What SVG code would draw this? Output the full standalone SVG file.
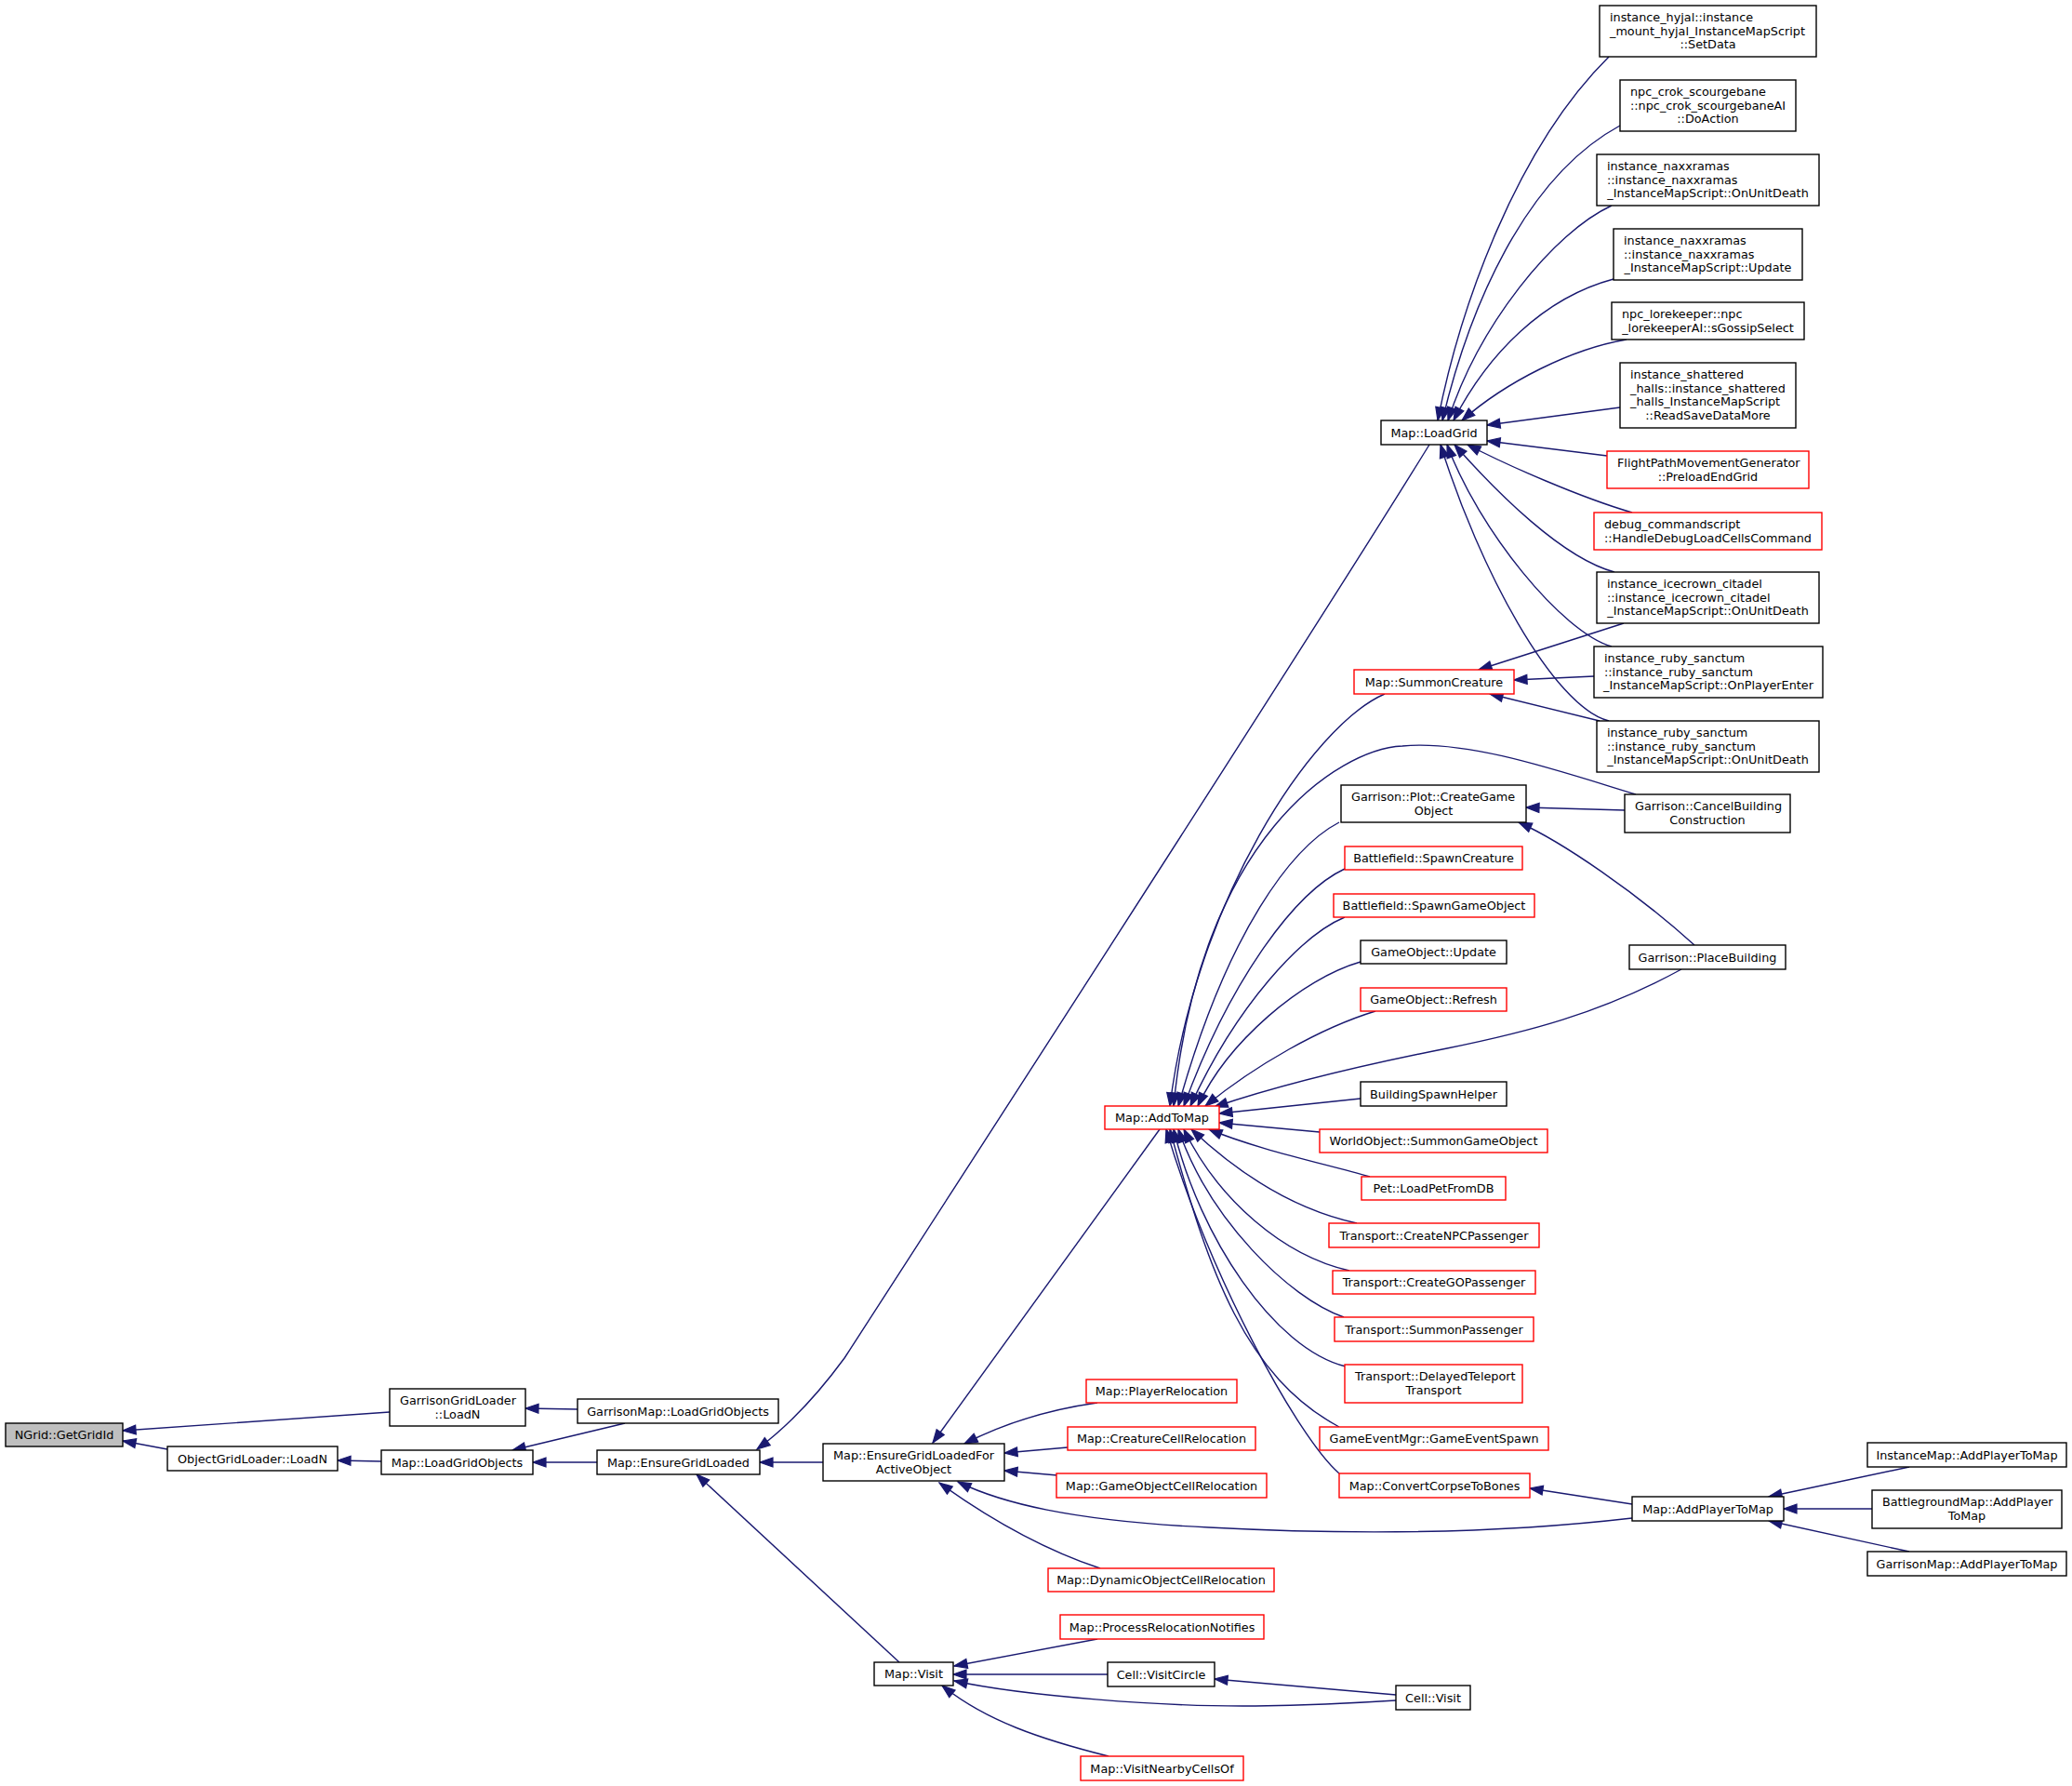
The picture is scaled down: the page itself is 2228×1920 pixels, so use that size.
<svg xmlns="http://www.w3.org/2000/svg" width="2228" height="1920" viewBox="0 0 2228 1920">
<defs>
<marker id="a" markerUnits="userSpaceOnUse" markerWidth="16" markerHeight="12" refX="14" refY="5" orient="auto-start-reverse" overflow="visible">
<path d="M0,0 L14,5 L0,10 Z" fill="#191970" stroke="#191970" stroke-width="1.2"/>
</marker>
<style>
.n rect{fill:#fff;stroke:#000;stroke-width:1.4}
.r rect{stroke:#f00}
.g rect{fill:#bfbfbf}
text{font-family:"DejaVu Sans","Liberation Sans",sans-serif;font-size:12.8px;fill:#000}
.c{text-anchor:middle}
#edges path{fill:none;stroke:#191970;stroke-width:1.4;marker-start:url(#a)}
</style>
</defs>
<rect x="0" y="0" width="2228" height="1920" fill="#fff"/>

<g id="edges">
<path d="M132,1538 L419,1518"/>
<path d="M132,1549 L180,1558"/>
<path d="M565,1514 L621,1515"/>
<path d="M551,1559 L672,1530"/>
<path d="M363,1570 L410,1571"/>
<path d="M573,1572 L642,1572"/>
<path d="M817,1572 L885,1572"/>
<path d="M749,1585 L967,1787"/>
<path d="M814,1558 C845,1535 875,1505 908,1460 C1050,1240 1400,700 1537,478"/>
<path d="M1003,1551 L1247,1214"/>
<path d="M1037,1552 C1080,1530 1130,1515 1180,1508"/>
<path d="M1080,1562 L1148,1556"/>
<path d="M1080,1581 L1137,1586"/>
<path d="M1010,1594 C1060,1630 1120,1665 1183,1686"/>
<path d="M1030,1593 C1075,1615 1150,1635 1300,1642 C1450,1650 1600,1650 1755,1632"/>
<path d="M1546,452 C1570,330 1630,160 1730,61"/>
<path d="M1551,452 C1580,330 1640,190 1742,135"/>
<path d="M1557,452 C1590,350 1670,250 1733,221"/>
<path d="M1563,452 C1600,380 1660,320 1735,300"/>
<path d="M1572,452 C1620,410 1690,375 1749,365"/>
<path d="M1599,457 L1742,438"/>
<path d="M1599,474 L1728,490"/>
<path d="M1578,478 C1620,500 1700,535 1755,551"/>
<path d="M1564,478 C1610,530 1680,600 1736,615"/>
<path d="M1556,478 C1590,570 1680,680 1733,695"/>
<path d="M1549,478 C1590,610 1670,760 1730,775"/>
<path d="M1590,720 L1746,670"/>
<path d="M1628,731 L1714,727"/>
<path d="M1602,746 L1720,775"/>
<path d="M1641,868 L1747,871"/>
<path d="M1633,884 C1680,905 1760,960 1822,1016"/>
<path d="M1258,1189 C1285,970 1410,780 1489,746"/>
<path d="M1262,1189 C1290,900 1440,805 1508,802 C1580,795 1680,830 1759,854"/>
<path d="M1267,1189 C1320,1000 1390,910 1440,884"/>
<path d="M1273,1189 C1320,1060 1390,960 1446,934"/>
<path d="M1280,1189 C1330,1080 1400,1005 1446,986"/>
<path d="M1288,1189 C1320,1120 1400,1052 1463,1034"/>
<path d="M1296,1189 C1350,1145 1420,1105 1479,1087"/>
<path d="M1306,1190 C1380,1165 1460,1146 1556,1127 C1640,1110 1720,1090 1808,1042"/>
<path d="M1311,1197 L1463,1181"/>
<path d="M1311,1207 L1419,1217"/>
<path d="M1300,1214 C1350,1235 1420,1250 1473,1265"/>
<path d="M1281,1214 C1330,1260 1390,1300 1459,1315"/>
<path d="M1273,1214 C1310,1290 1380,1350 1451,1366"/>
<path d="M1267,1214 C1300,1310 1385,1395 1445,1416"/>
<path d="M1262,1214 C1290,1330 1370,1450 1447,1469"/>
<path d="M1258,1214 C1300,1370 1340,1480 1440,1534"/>
<path d="M1254,1214 C1300,1370 1395,1545 1440,1584"/>
<path d="M1645,1600 L1755,1617"/>
<path d="M1902,1609 L2053,1577"/>
<path d="M1918,1622 L2013,1622"/>
<path d="M1902,1635 L2053,1668"/>
<path d="M1026,1791 L1180,1762"/>
<path d="M1025,1800 L1191,1800"/>
<path d="M1026,1807 C1100,1823 1250,1835 1350,1834 C1420,1833 1470,1830 1501,1828"/>
<path d="M1013,1812 C1060,1850 1120,1870 1192,1888"/>
<path d="M1306,1805 L1501,1822"/>
</g>

<g id="n_hyjal" class="n"><rect x="1720" y="6" width="233" height="55"/><text x="1731" y="23">instance_hyjal::instance</text><text x="1731" y="37.5">_mount_hyjal_InstanceMapScript</text><text class="c" x="1836.5" y="52">::SetData</text></g>
<g id="n_crok" class="n"><rect x="1742" y="86" width="189" height="55"/><text x="1753" y="103">npc_crok_scourgebane</text><text x="1753" y="117.5">::npc_crok_scourgebaneAI</text><text class="c" x="1836.5" y="132">::DoAction</text></g>
<g id="n_naxx1" class="n"><rect x="1717" y="166" width="239" height="55"/><text x="1728" y="183">instance_naxxramas</text><text x="1728" y="197.5">::instance_naxxramas</text><text class="c" x="1836.5" y="212">_InstanceMapScript::OnUnitDeath</text></g>
<g id="n_naxx2" class="n"><rect x="1735" y="246" width="203" height="55"/><text x="1746" y="263">instance_naxxramas</text><text x="1746" y="277.5">::instance_naxxramas</text><text class="c" x="1836.5" y="292">_InstanceMapScript::Update</text></g>
<g id="n_lorekeeper" class="n"><rect x="1733" y="325" width="207" height="40"/><text x="1744" y="342">npc_lorekeeper::npc</text><text class="c" x="1836.5" y="356.5">_lorekeeperAI::sGossipSelect</text></g>
<g id="n_shattered" class="n"><rect x="1742" y="390" width="189" height="70"/><text x="1753" y="407">instance_shattered</text><text x="1753" y="421.5">_halls::instance_shattered</text><text x="1753" y="436">_halls_InstanceMapScript</text><text class="c" x="1836.5" y="450.5">::ReadSaveDataMore</text></g>
<g id="n_flightpath" class="n r"><rect x="1728" y="485" width="217" height="40"/><text x="1739" y="502">FlightPathMovementGenerator</text><text class="c" x="1836.5" y="516.5">::PreloadEndGrid</text></g>
<g id="n_debug" class="n r"><rect x="1714" y="551" width="245" height="40"/><text x="1725" y="568">debug_commandscript</text><text class="c" x="1836.5" y="582.5">::HandleDebugLoadCellsCommand</text></g>
<g id="n_icecrown" class="n"><rect x="1717" y="615" width="239" height="55"/><text x="1728" y="632">instance_icecrown_citadel</text><text x="1728" y="646.5">::instance_icecrown_citadel</text><text class="c" x="1836.5" y="661">_InstanceMapScript::OnUnitDeath</text></g>
<g id="n_rubype" class="n"><rect x="1714" y="695" width="246" height="55"/><text x="1725" y="712">instance_ruby_sanctum</text><text x="1725" y="726.5">::instance_ruby_sanctum</text><text class="c" x="1837" y="741">_InstanceMapScript::OnPlayerEnter</text></g>
<g id="n_rubyud" class="n"><rect x="1717" y="775" width="239" height="55"/><text x="1728" y="792">instance_ruby_sanctum</text><text x="1728" y="806.5">::instance_ruby_sanctum</text><text class="c" x="1836.5" y="821">_InstanceMapScript::OnUnitDeath</text></g>
<g id="n_cancelbuilding" class="n"><rect x="1747" y="854" width="178" height="41"/><text x="1758" y="871">Garrison::CancelBuilding</text><text class="c" x="1836" y="885.5">Construction</text></g>
<g id="n_placebuilding" class="n"><rect x="1752" y="1016" width="168" height="26"/><text class="c" x="1836" y="1033.5">Garrison::PlaceBuilding</text></g>
<g id="n_addplayertomap" class="n"><rect x="1755" y="1609" width="163" height="26"/><text class="c" x="1836.5" y="1626.5">Map::AddPlayerToMap</text></g>

<g id="n_loadgrid" class="n"><rect x="1485" y="452" width="114" height="26"/><text class="c" x="1542" y="469.5">Map::LoadGrid</text></g>
<g id="n_summoncreature" class="n r"><rect x="1456" y="720" width="172" height="26"/><text class="c" x="1542" y="737.5">Map::SummonCreature</text></g>
<g id="n_creategameobject" class="n"><rect x="1442" y="844" width="199" height="40"/><text x="1453" y="861">Garrison::Plot::CreateGame</text><text class="c" x="1541.5" y="875.5">Object</text></g>
<g id="n_spawncreature" class="n r"><rect x="1446" y="910" width="191" height="25"/><text class="c" x="1541.5" y="927">Battlefield::SpawnCreature</text></g>
<g id="n_spawngameobject" class="n r"><rect x="1434" y="961" width="216" height="25"/><text class="c" x="1542" y="978">Battlefield::SpawnGameObject</text></g>
<g id="n_goupdate" class="n"><rect x="1463" y="1011" width="157" height="25"/><text class="c" x="1541.5" y="1028">GameObject::Update</text></g>
<g id="n_gorefresh" class="n r"><rect x="1463" y="1062" width="157" height="25"/><text class="c" x="1541.5" y="1079">GameObject::Refresh</text></g>
<g id="n_buildingspawnhelper" class="n"><rect x="1463" y="1163" width="157" height="26"/><text class="c" x="1541.5" y="1180.5">BuildingSpawnHelper</text></g>
<g id="n_summongameobject" class="n r"><rect x="1419" y="1214" width="245" height="25"/><text class="c" x="1541.5" y="1231">WorldObject::SummonGameObject</text></g>
<g id="n_loadpet" class="n r"><rect x="1464" y="1265" width="155" height="25"/><text class="c" x="1541.5" y="1282">Pet::LoadPetFromDB</text></g>
<g id="n_createnpc" class="n r"><rect x="1429" y="1315" width="226" height="26"/><text class="c" x="1542" y="1332.5">Transport::CreateNPCPassenger</text></g>
<g id="n_creatego" class="n r"><rect x="1433" y="1366" width="218" height="25"/><text class="c" x="1542" y="1383">Transport::CreateGOPassenger</text></g>
<g id="n_summonpassenger" class="n r"><rect x="1435" y="1416" width="214" height="26"/><text class="c" x="1542" y="1433.5">Transport::SummonPassenger</text></g>
<g id="n_delayedteleport" class="n r"><rect x="1446" y="1467" width="191" height="41"/><text x="1457" y="1484">Transport::DelayedTeleport</text><text class="c" x="1541.5" y="1498.5">Transport</text></g>
<g id="n_gameeventspawn" class="n r"><rect x="1419" y="1534" width="246" height="25"/><text class="c" x="1542" y="1551">GameEventMgr::GameEventSpawn</text></g>
<g id="n_convertcorpse" class="n r"><rect x="1440" y="1584" width="205" height="26"/><text class="c" x="1542.5" y="1601.5">Map::ConvertCorpseToBones</text></g>
<g id="n_cellvisit" class="n"><rect x="1501" y="1812" width="80" height="26"/><text class="c" x="1541" y="1829.5">Cell::Visit</text></g>

<g id="n_addtomap" class="n r"><rect x="1188" y="1189" width="123" height="25"/><text class="c" x="1249.5" y="1206">Map::AddToMap</text></g>
<g id="n_playerrelocation" class="n r"><rect x="1168" y="1483" width="162" height="25"/><text class="c" x="1249" y="1500">Map::PlayerRelocation</text></g>
<g id="n_creaturecellrelocation" class="n r"><rect x="1148" y="1534" width="202" height="25"/><text class="c" x="1249" y="1551">Map::CreatureCellRelocation</text></g>
<g id="n_gocellrelocation" class="n r"><rect x="1136" y="1584" width="226" height="26"/><text class="c" x="1249" y="1601.5">Map::GameObjectCellRelocation</text></g>
<g id="n_dyncellrelocation" class="n r"><rect x="1127" y="1686" width="243" height="25"/><text class="c" x="1248.5" y="1703">Map::DynamicObjectCellRelocation</text></g>
<g id="n_processrelocation" class="n r"><rect x="1140" y="1736" width="219" height="26"/><text class="c" x="1249.5" y="1753.5">Map::ProcessRelocationNotifies</text></g>
<g id="n_visitcircle" class="n"><rect x="1191" y="1787" width="115" height="26"/><text class="c" x="1248.5" y="1804.5">Cell::VisitCircle</text></g>
<g id="n_visitnearby" class="n r"><rect x="1162" y="1888" width="175" height="26"/><text class="c" x="1249.5" y="1905.5">Map::VisitNearbyCellsOf</text></g>

<g id="n_instancemap" class="n"><rect x="2008" y="1551" width="214" height="26"/><text class="c" x="2115" y="1568.5">InstanceMap::AddPlayerToMap</text></g>
<g id="n_battlegroundmap" class="n"><rect x="2013" y="1602" width="204" height="41"/><text x="2024" y="1619">BattlegroundMap::AddPlayer</text><text class="c" x="2115" y="1633.5">ToMap</text></g>
<g id="n_garrisonmapadd" class="n"><rect x="2008" y="1668" width="214" height="26"/><text class="c" x="2115" y="1685.5">GarrisonMap::AddPlayerToMap</text></g>

<g id="n_ngrid" class="n g"><rect x="6" y="1530" width="126" height="25"/><text class="c" x="69" y="1547">NGrid::GetGridId</text></g>
<g id="n_garrisongridloader" class="n"><rect x="419" y="1493" width="146" height="40"/><text x="430" y="1510">GarrisonGridLoader</text><text class="c" x="492" y="1524.5">::LoadN</text></g>
<g id="n_garrisonmaploadgrid" class="n"><rect x="621" y="1504" width="216" height="26"/><text class="c" x="729" y="1521.5">GarrisonMap::LoadGridObjects</text></g>
<g id="n_objectgridloader" class="n"><rect x="180" y="1555" width="183" height="26"/><text class="c" x="271.5" y="1572.5">ObjectGridLoader::LoadN</text></g>
<g id="n_loadgridobjects" class="n"><rect x="410" y="1559" width="163" height="26"/><text class="c" x="491.5" y="1576.5">Map::LoadGridObjects</text></g>
<g id="n_ensuregridloaded" class="n"><rect x="642" y="1559" width="175" height="26"/><text class="c" x="729.5" y="1576.5">Map::EnsureGridLoaded</text></g>
<g id="n_eglfao" class="n"><rect x="885" y="1552" width="195" height="40"/><text x="896" y="1569">Map::EnsureGridLoadedFor</text><text class="c" x="982.5" y="1583.5">ActiveObject</text></g>
<g id="n_mapvisit" class="n"><rect x="940" y="1787" width="85" height="25"/><text class="c" x="982.5" y="1804">Map::Visit</text></g>
</svg>
